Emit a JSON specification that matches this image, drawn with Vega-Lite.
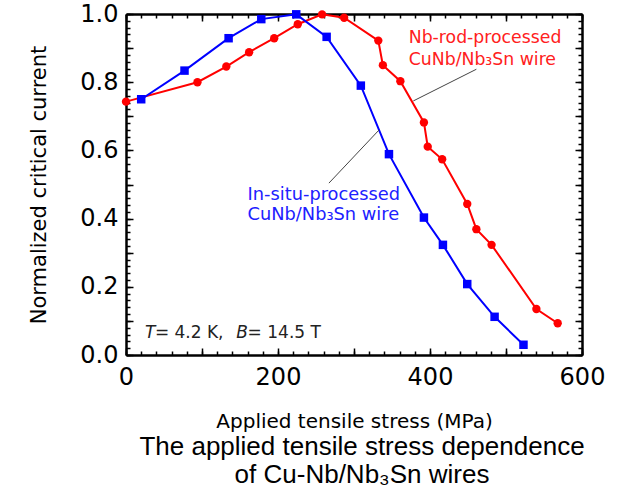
{
  "$schema": "https://vega.github.io/schema/vega-lite/v6.json",
  "width": 456,
  "height": 341,
  "autosize": "none",
  "padding": {"left": 126, "top": 14, "right": 39, "bottom": 137},
  "background": "white",
  "config": {
    "view": {"stroke": null},
    "font": "DejaVu Sans",
    "axis": {
      "domainColor": "black", "domainWidth": 2.5, "grid": false, "labelColor": "black", "titleColor": "black",
      "labelFont": "DejaVu Sans", "titleFont": "DejaVu Sans", "titleFontWeight": "normal",
      "labelFlush": false, "labelOverlap": false
    }
  },
  "title": {
    "text": ["The applied tensile stress dependence", "of Cu-Nb/Nb₃Sn wires"],
    "orient": "bottom", "anchor": "middle", "font": "Liberation Sans", "fontSize": 26,
    "fontWeight": "normal", "color": "black", "lineHeight": 28, "offset": 3, "dx": 8
  },
  "datasets": {
    "rod": [
      {"stress": 0, "ic": 0.743}, {"stress": 94, "ic": 0.8}, {"stress": 132, "ic": 0.846},
      {"stress": 162, "ic": 0.888}, {"stress": 195, "ic": 0.929}, {"stress": 226, "ic": 0.97},
      {"stress": 258, "ic": 0.999}, {"stress": 287, "ic": 0.989}, {"stress": 332, "ic": 0.922},
      {"stress": 338, "ic": 0.85}, {"stress": 361, "ic": 0.803}, {"stress": 392, "ic": 0.682},
      {"stress": 397, "ic": 0.611}, {"stress": 416, "ic": 0.574}, {"stress": 449, "ic": 0.443},
      {"stress": 461, "ic": 0.369}, {"stress": 481, "ic": 0.323}, {"stress": 540, "ic": 0.135},
      {"stress": 568, "ic": 0.093}
    ],
    "insitu": [
      {"stress": 20, "ic": 0.75}, {"stress": 77, "ic": 0.834}, {"stress": 135, "ic": 0.929},
      {"stress": 178, "ic": 0.985}, {"stress": 224, "ic": 0.999}, {"stress": 264, "ic": 0.933},
      {"stress": 309, "ic": 0.79}, {"stress": 346, "ic": 0.589}, {"stress": 392, "ic": 0.403},
      {"stress": 417, "ic": 0.323}, {"stress": 449, "ic": 0.208}, {"stress": 485, "ic": 0.112},
      {"stress": 523, "ic": 0.03}
    ],
    "leaders": [
      {"x": 461, "y": 0.838, "x2": 378, "y2": 0.745},
      {"x": 333, "y": 0.66, "x2": 267, "y2": 0.504}
    ],
    "rodLabel": [
      {"x": 372, "y": 0.93, "text": "Nb-rod-processed"},
      {"x": 372, "y": 0.865, "text": "CuNb/Nb₃Sn wire"}
    ],
    "insituLabel": [
      {"x": 160, "y": 0.469, "text": "In-situ-processed"},
      {"x": 160, "y": 0.41, "text": "CuNb/Nb₃Sn wire"}
    ],
    "condItalic": [
      {"x": 25, "y": 0.064, "text": "T"},
      {"x": 145, "y": 0.064, "text": "B"}
    ],
    "condNormal": [
      {"x": 38, "y": 0.064, "text": "= 4.2 K,"},
      {"x": 160, "y": 0.064, "text": "= 14.5 T"}
    ]
  },
  "resolve": {"axis": {"x": "independent", "y": "independent"}},
  "layer": [
    {
      "data": {"name": "rod"},
      "mark": {"type": "line", "color": "#ff0000", "strokeWidth": 2},
      "encoding": {
        "x": {"field": "stress", "type": "quantitative",
          "scale": {"domain": [0, 600], "nice": false, "zero": false},
          "axis": {"orient": "bottom", "values": [0, 200, 400, 600], "ticks": false, "labelPadding": 10,
            "labelFontSize": 24, "title": "Applied tensile stress (MPa)", "titleFontSize": 20, "titlePadding": 22}},
        "y": {"field": "ic", "type": "quantitative",
          "scale": {"domain": [0, 1], "nice": false, "zero": false},
          "axis": {"orient": "left", "values": [0, 0.2, 0.4, 0.6, 0.8, 1.0], "format": ".1f", "ticks": false,
            "labelPadding": 8, "labelFontSize": 24, "title": "Normalized critical current",
            "titleFontSize": 21, "titlePadding": 30}}
      }
    },
    {
      "data": {"name": "insitu"},
      "mark": {"type": "line", "color": "#0000ff", "strokeWidth": 2},
      "encoding": {
        "x": {"field": "stress", "type": "quantitative",
          "axis": {"orient": "bottom", "values": [0, 100, 200, 300, 400, 500, 600], "tickSize": -7, "tickColor": "black", "tickWidth": 1.5,
            "domain": false, "labels": false, "title": null}},
        "y": {"field": "ic", "type": "quantitative",
          "axis": {"orient": "left", "values": [0, 0.1, 0.2, 0.3, 0.4, 0.5, 0.6, 0.7, 0.8, 0.9, 1.0], "tickSize": -7, "tickColor": "black", "tickWidth": 1.5,
            "domain": false, "labels": false, "title": null}}
      }
    },
    {
      "data": {"name": "rod"},
      "mark": {"type": "point", "shape": "circle", "filled": true, "color": "#ff0000", "size": 70, "opacity": 1},
      "encoding": {
        "x": {"field": "stress", "type": "quantitative",
          "axis": {"orient": "bottom", "values": [0,20,40,60,80,100,120,140,160,180,200,220,240,260,280,300,320,340,360,380,400,420,440,460,480,500,520,540,560,580,600],
            "tickSize": -4, "tickColor": "black", "tickWidth": 1.5, "domain": false, "labels": false, "title": null}},
        "y": {"field": "ic", "type": "quantitative",
          "axis": {"orient": "left", "values": [0,0.02,0.04,0.06,0.08,0.1,0.12,0.14,0.16,0.18,0.2,0.22,0.24,0.26,0.28,0.3,0.32,0.34,0.36,0.38,0.4,0.42,0.44,0.46,0.48,0.5,0.52,0.54,0.56,0.58,0.6,0.62,0.64,0.66,0.68,0.7,0.72,0.74,0.76,0.78,0.8,0.82,0.84,0.86,0.88,0.9,0.92,0.94,0.96,0.98,1.0],
            "tickSize": -4, "tickColor": "black", "tickWidth": 1.5, "domain": false, "labels": false, "title": null}}
      }
    },
    {
      "data": {"name": "insitu"},
      "mark": {"type": "point", "shape": "square", "filled": true, "color": "#0000ff", "size": 72, "opacity": 1},
      "encoding": {
        "x": {"field": "stress", "type": "quantitative",
          "axis": {"orient": "top", "values": [0, 200, 400, 600], "ticks": false, "labels": false, "title": null}},
        "y": {"field": "ic", "type": "quantitative",
          "axis": {"orient": "right", "values": [0, 0.2, 0.4, 0.6, 0.8, 1.0], "ticks": false, "labels": false, "title": null}}
      }
    },
    {
      "data": {"name": "leaders"},
      "mark": {"type": "rule", "color": "#444444", "strokeWidth": 1},
      "encoding": {
        "x": {"field": "x", "type": "quantitative",
          "axis": {"orient": "top", "values": [0, 100, 200, 300, 400, 500, 600], "tickSize": -7, "tickColor": "black", "tickWidth": 1.5,
            "domain": false, "labels": false, "title": null}},
        "y": {"field": "y", "type": "quantitative",
          "axis": {"orient": "right", "values": [0, 0.1, 0.2, 0.3, 0.4, 0.5, 0.6, 0.7, 0.8, 0.9, 1.0], "tickSize": -7, "tickColor": "black", "tickWidth": 1.5,
            "domain": false, "labels": false, "title": null}},
        "x2": {"field": "x2"},
        "y2": {"field": "y2"}
      }
    },
    {
      "data": {"name": "rodLabel"},
      "mark": {"type": "text", "align": "left", "baseline": "middle", "fontSize": 17.3, "color": "#ff2020", "font": "DejaVu Sans"},
      "encoding": {
        "x": {"field": "x", "type": "quantitative",
          "axis": {"orient": "top", "values": [0,20,40,60,80,100,120,140,160,180,200,220,240,260,280,300,320,340,360,380,400,420,440,460,480,500,520,540,560,580,600],
            "tickSize": -4, "tickColor": "black", "tickWidth": 1.5, "domain": false, "labels": false, "title": null}},
        "y": {"field": "y", "type": "quantitative",
          "axis": {"orient": "right", "values": [0,0.02,0.04,0.06,0.08,0.1,0.12,0.14,0.16,0.18,0.2,0.22,0.24,0.26,0.28,0.3,0.32,0.34,0.36,0.38,0.4,0.42,0.44,0.46,0.48,0.5,0.52,0.54,0.56,0.58,0.6,0.62,0.64,0.66,0.68,0.7,0.72,0.74,0.76,0.78,0.8,0.82,0.84,0.86,0.88,0.9,0.92,0.94,0.96,0.98,1.0],
            "tickSize": -4, "tickColor": "black", "tickWidth": 1.5, "domain": false, "labels": false, "title": null}},
        "text": {"field": "text"}
      }
    },
    {
      "data": {"name": "insituLabel"},
      "mark": {"type": "text", "align": "left", "baseline": "middle", "fontSize": 17.8, "color": "#2020ff", "font": "DejaVu Sans"},
      "encoding": {
        "x": {"field": "x", "type": "quantitative", "axis": null},
        "y": {"field": "y", "type": "quantitative", "axis": null},
        "text": {"field": "text"}
      }
    },
    {
      "data": {"name": "condItalic"},
      "mark": {"type": "text", "align": "left", "baseline": "middle", "fontSize": 17, "fontStyle": "italic", "color": "#222222", "font": "DejaVu Sans"},
      "encoding": {
        "x": {"field": "x", "type": "quantitative", "axis": null},
        "y": {"field": "y", "type": "quantitative", "axis": null},
        "text": {"field": "text"}
      }
    },
    {
      "data": {"name": "condNormal"},
      "mark": {"type": "text", "align": "left", "baseline": "middle", "fontSize": 17, "color": "#222222", "font": "DejaVu Sans"},
      "encoding": {
        "x": {"field": "x", "type": "quantitative", "axis": null},
        "y": {"field": "y", "type": "quantitative", "axis": null},
        "text": {"field": "text"}
      }
    }
  ]
}
